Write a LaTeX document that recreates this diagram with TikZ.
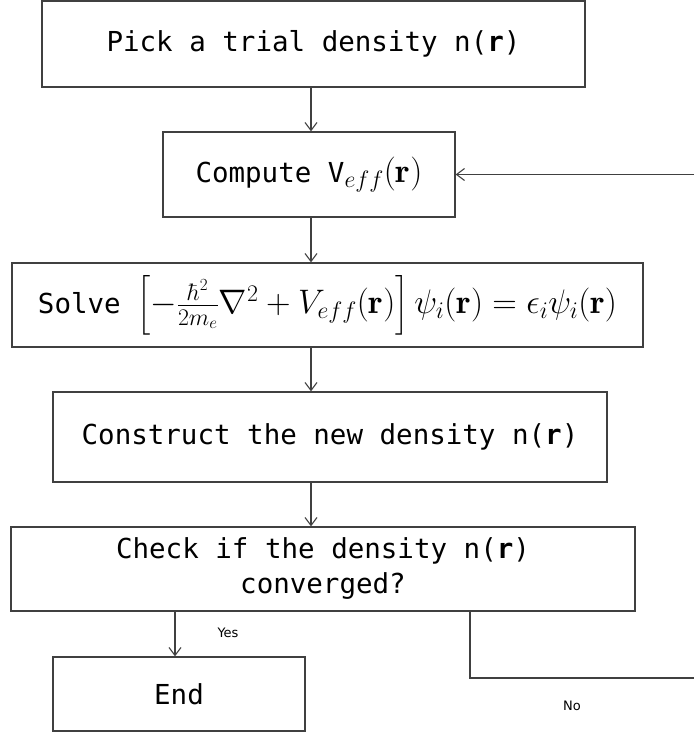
\RequirePackage{fix-cm}
\documentclass[tikz,border=0pt]{standalone}
\usepackage{amsmath}
\usepackage{fontspec}
\setmonofont{DejaVu Sans Mono}
\setsansfont{DejaVu Sans}
\usetikzlibrary{arrows.meta,calc}
\definecolor{edge}{HTML}{404040}
\tikzset{
  stepbox/.style={draw=edge, line width=1.2pt, rectangle, inner sep=0pt,
    font=\fontsize{27.5}{35}\selectfont\ttfamily, align=center},
  flow/.style={draw=edge, line width=1.2pt,
    -{Straight Barb[length=8pt,width=12pt,line width=1.1pt]}},
  wire/.style={draw=edge, line width=1.2pt},
  tag/.style={font=\fontsize{13}{15}\selectfont\sffamily, inner sep=0pt}
}
\newcommand{\rb}{\textbf{r}}
% formulas are set a little larger so they sit well beside the mono text
\newcommand{\bigmath}[1]{{\fontsize{34}{40}\selectfont$#1$}}
\begin{document}
\begin{tikzpicture}[x=1pt,y=-1pt]
  \useasboundingbox (0,0) rectangle (694,735);
  \node[stepbox, minimum width=543pt, minimum height=86pt] (b1) at (313.5,44)
    {Pick a trial density n(\rb)};
  \node[stepbox, minimum width=292pt, minimum height=85pt] (b2) at (309,174.5)
    {Compute V\bigmath{_{eff}(\mathbf{r})}};
  \node[stepbox, minimum width=631pt, minimum height=84pt] (b3) at (327.5,305)
    {Solve \bigmath{\left[-\frac{\hbar^2}{2m_e}\nabla^2+V_{eff}(\mathbf{r})\right]\psi_i(\mathbf{r})=\epsilon_i\psi_i(\mathbf{r})}};
  \node[stepbox, minimum width=554pt, minimum height=90pt] (b4) at (330,437)
    {Construct the new density n(\rb)};
  \node[stepbox, minimum width=624pt, minimum height=84pt] (b5) at (323,569)
    {Check if the density n(\rb)\\converged?};
  \node[stepbox, minimum width=252pt, minimum height=74pt] (b6) at (179,694)
    {End};

  % spine of the flow chart
  \coordinate (cx) at (311,0);
  \draw[flow] (b1.south -| cx) -- (b2.north -| cx);
  \draw[flow] (b2.south -| cx) -- (b3.north -| cx);
  \draw[flow] (b3.south -| cx) -- (b4.north -| cx);
  \draw[flow] (b4.south -| cx) -- (b5.north -| cx);

  % converged: go to the end
  \coordinate (yx) at (175,0);
  \draw[flow] (b5.south -| yx) -- (b6.north -| yx);
  \node[tag] (yes) at (228,633) {Yes};

  % not converged: loop back to the potential
  \coordinate (nx) at (470,0);
  \coordinate (nc) at (470,678);
  \coordinate (ne) at (694,678);
  \draw[wire] (b5.south -| nx) -- (nc) -- (ne);
  \node[tag] (no) at (572,706) {No};
  \coordinate (ret) at (694,174.5);
  \draw[flow] (ret) -- (b2.east);
\end{tikzpicture}
\end{document}
